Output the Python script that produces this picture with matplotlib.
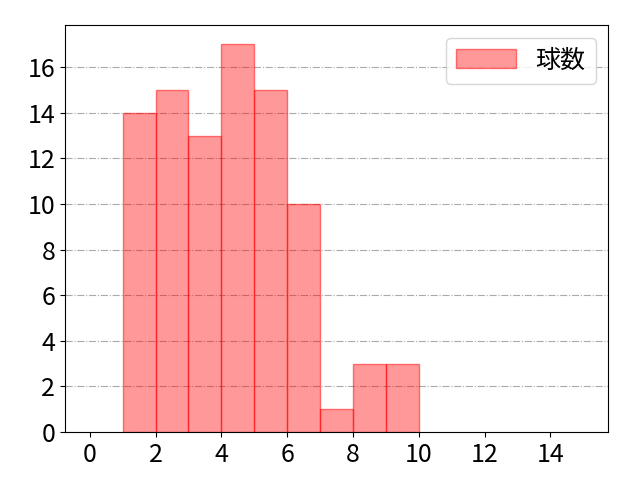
import matplotlib
matplotlib.use("Agg")
import matplotlib.pyplot as plt

plt.rcParams['font.family'] = ['Noto Sans CJK JP', 'DejaVu Sans']

bin_left = [1, 2, 3, 4, 5, 6, 7, 8, 9]
counts = [14, 15, 13, 17, 15, 10, 1, 3, 3]
label = "球数"

fig, ax = plt.subplots(figsize=(6.4, 4.8), dpi=100)
ax.bar(bin_left, counts, width=1.0, align='edge', color=(1, 0, 0, 0.4),
       edgecolor=(1, 0, 0, 0.5), linewidth=1, label=label)
ax.set_xlim(-0.75, 15.75)
ax.set_xticks([0, 2, 4, 6, 8, 10, 12, 14])
ax.set_yticks([0, 2, 4, 6, 8, 10, 12, 14, 16])
ax.tick_params(labelsize=18)
ax.grid(axis='y', linestyle='-.', color='#aaaaaa', linewidth=0.8)
ax.set_axisbelow(True)
ax.legend(loc='upper right', fontsize=18, handlelength=2.4, handleheight=0.8)
fig.subplots_adjust(left=65/640, right=608/640, top=1-25/480, bottom=1-432/480)
fig.savefig("out.png")
